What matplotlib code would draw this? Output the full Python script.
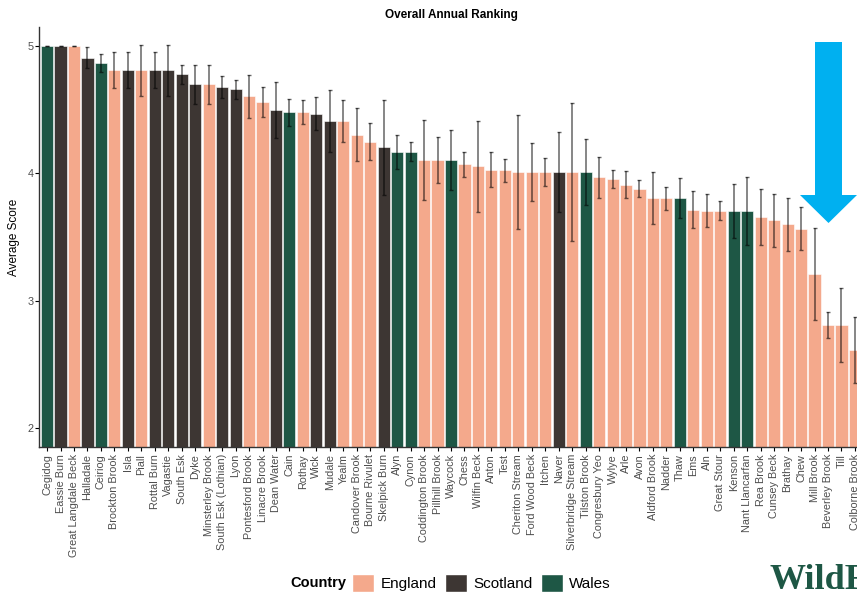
import numpy as np
import matplotlib
matplotlib.use('Agg')
import matplotlib.pyplot as plt
from matplotlib.patches import Patch, Polygon

plt.rcParams['font.family'] = ['Liberation Sans', 'DejaVu Sans']

rivers = ['Cegidog', 'Eassie Burn', 'Great Langdale Beck', 'Halladale', 'Ceiriog',
          'Brockton Brook', 'Isla', 'Piall', 'Rottal Burn', 'Vagastie', 'South Esk',
          'Dyke', 'Minsterley Brook', 'South Esk (Lothian)', 'Lyon', 'Pontesford Brook',
          'Linacre Brook', 'Dean Water', 'Cain', 'Rothay', 'Wick', 'Mudale', 'Yealm',
          'Candover Brook', 'Bourne Rivulet', 'Skelpick Burn', 'Alyn', 'Cynon',
          'Coddington Brook', 'Pillhill Brook', 'Waycock', 'Chess', 'Wilfin Beck',
          'Anton', 'Test', 'Cheriton Stream', 'Ford Wood Beck', 'Itchen', 'Naver',
          'Silverbridge Stream', 'Tilston Brook', 'Congresbury Yeo', 'Wylye', 'Arle',
          'Avon', 'Aldford Brook', 'Nadder', 'Thaw', 'Ems', 'Aln', 'Great Stour',
          'Kenson', 'Nant Llancarfan', 'Rea Brook', 'Cunsey Beck', 'Brathay', 'Chew',
          'Mill Brook', 'Beverley Brook', 'Till', 'Colborne Brook']

country = ['Wales', 'Scotland', 'England', 'Scotland', 'Wales',
           'England', 'Scotland', 'England', 'Scotland', 'Scotland', 'Scotland',
           'Scotland', 'England', 'Scotland', 'Scotland', 'England',
           'England', 'Scotland', 'Wales', 'England', 'Scotland', 'Scotland', 'England',
           'England', 'England', 'Scotland', 'Wales', 'Wales',
           'England', 'England', 'Wales', 'England', 'England',
           'England', 'England', 'England', 'England', 'England', 'Scotland',
           'England', 'Wales', 'England', 'England', 'England',
           'England', 'England', 'England', 'Wales', 'England', 'England', 'England',
           'Wales', 'Wales', 'England', 'England', 'England', 'England',
           'England', 'England', 'England', 'England']

score = [5.00, 5.00, 5.00, 4.91, 4.87, 4.81, 4.81, 4.81, 4.81, 4.81, 4.78,
         4.70, 4.70, 4.68, 4.66, 4.605, 4.56, 4.50, 4.48, 4.48, 4.47, 4.41, 4.41,
         4.305, 4.25, 4.205, 4.17, 4.17, 4.105, 4.105, 4.105, 4.07, 4.055,
         4.03, 4.025, 4.01, 4.01, 4.01, 4.01, 4.01, 4.01, 3.97, 3.955, 3.91,
         3.88, 3.805, 3.805, 3.805, 3.715, 3.705, 3.705, 3.705, 3.705,
         3.655, 3.63, 3.60, 3.565, 3.21, 2.81, 2.81, 2.61]

err = [0.0, 0.0, 0.0, 0.08, 0.07, 0.14, 0.14, 0.20, 0.14, 0.20, 0.075,
       0.155, 0.155, 0.085, 0.075, 0.17, 0.115, 0.22, 0.105, 0.095, 0.13, 0.245, 0.165,
       0.21, 0.148, 0.375, 0.135, 0.075, 0.315, 0.18, 0.235, 0.10, 0.36,
       0.14, 0.09, 0.45, 0.225, 0.11, 0.315, 0.545, 0.26, 0.16, 0.07, 0.105,
       0.065, 0.205, 0.09, 0.155, 0.145, 0.13, 0.075, 0.215, 0.265,
       0.22, 0.205, 0.21, 0.17, 0.36, 0.10, 0.29, 0.26]

palette = {'England': '#F4A98C', 'Scotland': '#3D3633', 'Wales': '#1E5745'}

W, H = 857, 592
fig = plt.figure(figsize=(W / 100, H / 100), dpi=100)


def fx(px):
    return px / W


def fy(py):
    return 1 - py / H


ax = fig.add_axes([fx(39), fy(447), fx(863) - fx(39), fy(27) - fy(447)])

x = np.arange(len(rivers))
ax.bar(x, score, width=0.9, color=[palette[c] for c in country],
       edgecolor='white', linewidth=0.4, zorder=2)
ax.errorbar(x, score, yerr=err, fmt='none', ecolor='black', alpha=0.6,
            elinewidth=1.1, capsize=1.2, capthick=1, zorder=3)

ax.set_xlim(-0.6, len(rivers) - 0.4)
ax.set_ylim(1.85, 5.15)
ax.set_yticks([2, 3, 4, 5])
ax.set_xticks(x)
ax.set_xticklabels(rivers, rotation=90, fontsize=7.8, color='#4D4D4D')
ax.tick_params(axis='y', labelsize=7.8, labelcolor='#4D4D4D', length=3, width=0.8, pad=1)
ax.tick_params(axis='x', length=3, width=0.8, pad=2)
for s in ['top', 'right']:
    ax.spines[s].set_visible(False)
for s in ['left', 'bottom']:
    ax.spines[s].set_color('#333333')
    ax.spines[s].set_linewidth(1.0)

ax.set_ylabel('Average Score', fontsize=8.5)
ax.yaxis.set_label_coords(-(39 - 20) / 824, 0.5)
fig.text(fx(451), fy(15), 'Overall Annual Ranking', fontsize=8.5,
         fontweight='bold', ha='center', va='center')

# legend along the bottom
fig.text(fx(346), fy(583), 'Country', fontsize=10.5, fontweight='bold',
         ha='right', va='center')
handles = [Patch(facecolor=palette[k], edgecolor='white', label=k)
           for k in ['England', 'Scotland', 'Wales']]
fig.legend(handles=handles, loc='center left', bbox_to_anchor=(fx(352), fy(583)),
           ncol=3, frameon=False, fontsize=11, handlelength=1.45, handleheight=1.45,
           handletextpad=0.4, columnspacing=0.55, borderpad=0, borderaxespad=0)

# downward arrow on the right
arrow = [(815, 42), (842, 42), (842, 195), (857, 195), (828.5, 223),
         (800, 195), (815, 195)]
fig.patches.append(Polygon([(fx(a), fy(b)) for a, b in arrow], closed=True,
                           transform=fig.transFigure, facecolor='#00B0F0',
                           edgecolor='none'))

fig.text(fx(769), fy(589), 'WildFish', fontsize=26, fontweight='bold',
         family='Liberation Serif', color='#1E5745', ha='left', va='baseline')

fig.savefig('out.png', dpi=100)
